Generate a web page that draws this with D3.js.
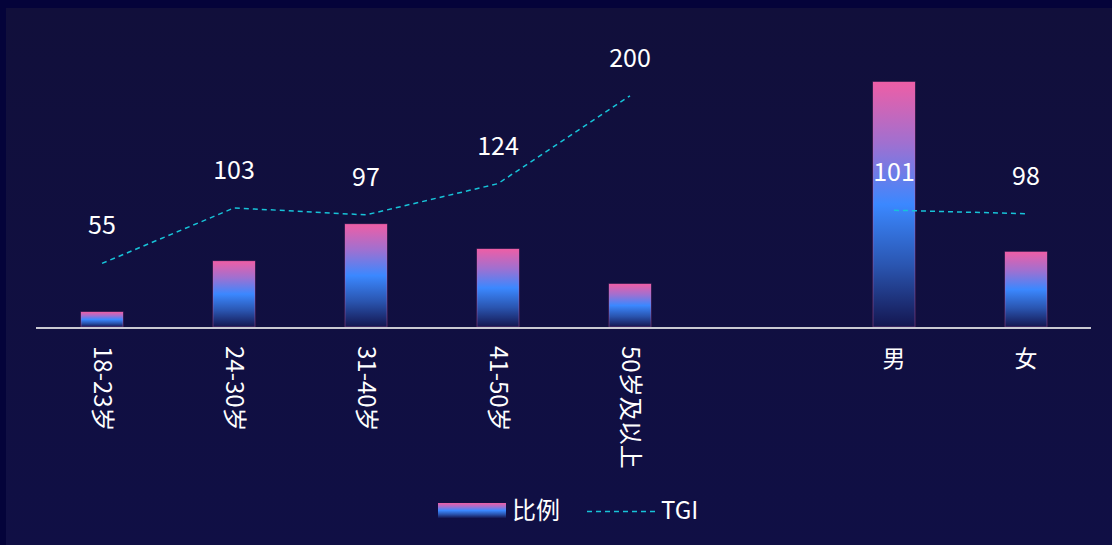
<!DOCTYPE html>
<html><head><meta charset="utf-8">
<script src="https://cdn.jsdelivr.net/npm/d3@7"></script>
<style>
html,body{margin:0;padding:0;background:#04033a;}
svg{display:block;font-family:"Noto Sans CJK SC","Noto Sans",sans-serif;}
</style></head><body>
<svg id="c" width="1112" height="545"></svg>
<script>
const categories = ["18-23岁","24-30岁","31-40岁","41-50岁","50岁及以上","","男","女"];
const ratioValues = [5.2, 22.8, 35.6, 27.0, 14.9, null, 84.8, 26.0];
const tgiValues = [55, 103, 97, 124, 200, null, 101, 98];
const legendLabels = ["比例", "TGI"];
const rotatedLabels = ["18-23岁","24-30岁","31-40岁","41-50岁","50岁及以上"];

const svg = d3.select("#c");
const W = 1112, H = 545;
const defs = svg.append("defs");

const bg = defs.append("linearGradient").attr("id","bg").attr("x1",0).attr("y1",0).attr("x2",0).attr("y2",1);
bg.append("stop").attr("offset","0%").attr("stop-color","#110f3b");
bg.append("stop").attr("offset","100%").attr("stop-color","#100f45");
svg.append("rect").attr("width",W).attr("height",H).attr("fill","#04033a");
svg.append("rect").attr("x",6).attr("y",8).attr("width",W-6).attr("height",H-8).attr("fill","url(#bg)");

const bar = defs.append("linearGradient").attr("id","barG").attr("x1",0).attr("y1",0).attr("x2",0).attr("y2",1);
bar.append("stop").attr("offset","0%").attr("stop-color","#ee5ea6");
bar.append("stop").attr("offset","25%").attr("stop-color","#a070d0");
bar.append("stop").attr("offset","50%").attr("stop-color","#3b88ff");
bar.append("stop").attr("offset","75%").attr("stop-color","#2a55b0");
bar.append("stop").attr("offset","100%").attr("stop-color","#141650");

const x = d3.scaleBand().domain(d3.range(categories.length)).range([36, 1092]).padding(0);
const yBar = d3.scaleLinear().domain([0, 100]).range([327, 38]);
const yTgi = d3.scaleLinear().domain([0, 250]).range([327, 38]);
const bw = 42;

const data = categories.map((c,i)=>({c, i, r: ratioValues[i], t: tgiValues[i]}));

// bars
svg.append("g").selectAll("rect").data(data.filter(d=>d.r!=null)).join("rect")
  .attr("x", d=>x(d.i)+x.bandwidth()/2-bw/2)
  .attr("y", d=>yBar(d.r))
  .attr("width", bw)
  .attr("height", d=>yBar(0)-yBar(d.r))
  .attr("fill","url(#barG)")
  .attr("stroke","rgba(230,100,170,0.35)").attr("stroke-width",1);

// axis
const axisG = svg.append("g").attr("transform","translate(0,328)");
const axis = d3.axisBottom(x).tickSize(0).tickFormat("");
axisG.call(axis);
axisG.select(".domain").attr("stroke","#c9c9d2").attr("stroke-width",2).attr("d","M36,0H1091");

// tick labels
const tl = svg.append("g").attr("fill","#ffffff").attr("font-size",24);
data.forEach(d=>{
  if(!d.c) return;
  const cx = x(d.i)+x.bandwidth()/2;
  if(rotatedLabels.includes(d.c)){
    tl.append("text").attr("transform",`translate(${cx},346) rotate(90)`)
      .attr("text-anchor","start").attr("dy","0.35em").text(d.c);
  } else {
    tl.append("text").attr("x",cx).attr("y",367).attr("text-anchor","middle").attr("font-size",23).text(d.c);
  }
});

// TGI line
const line = d3.line().defined(d=>d.t!=null)
  .x(d=>x(d.i)+x.bandwidth()/2).y(d=>yTgi(d.t));
svg.append("path").datum(data).attr("d",line).attr("fill","none")
  .attr("stroke","#17c3d8").attr("stroke-width",1.5).attr("stroke-dasharray","5,4");

// TGI labels
svg.append("g").selectAll("text").data(data.filter(d=>d.t!=null)).join("text")
  .attr("x", d=>x(d.i)+x.bandwidth()/2)
  .attr("y", d=>yTgi(d.t)-29)
  .attr("text-anchor","middle").attr("fill","#ffffff").attr("font-size",25)
  .text(d=>d.t);

// legend
const lg = svg.append("g");
lg.append("rect").attr("x",438).attr("y",503).attr("width",68).attr("height",15).attr("fill","url(#barG)");
lg.append("text").attr("x",512).attr("y",511).attr("dy","0.35em").attr("fill","#fff").attr("font-size",24).text(legendLabels[0]);
lg.append("line").attr("x1",587).attr("x2",656).attr("y1",511.5).attr("y2",511.5)
  .attr("stroke","#17c3d8").attr("stroke-width",1.5).attr("stroke-dasharray","5,4");
lg.append("text").attr("x",661).attr("y",511).attr("dy","0.35em").attr("fill","#fff").attr("font-size",24).text(legendLabels[1]);
</script>
</body></html>
